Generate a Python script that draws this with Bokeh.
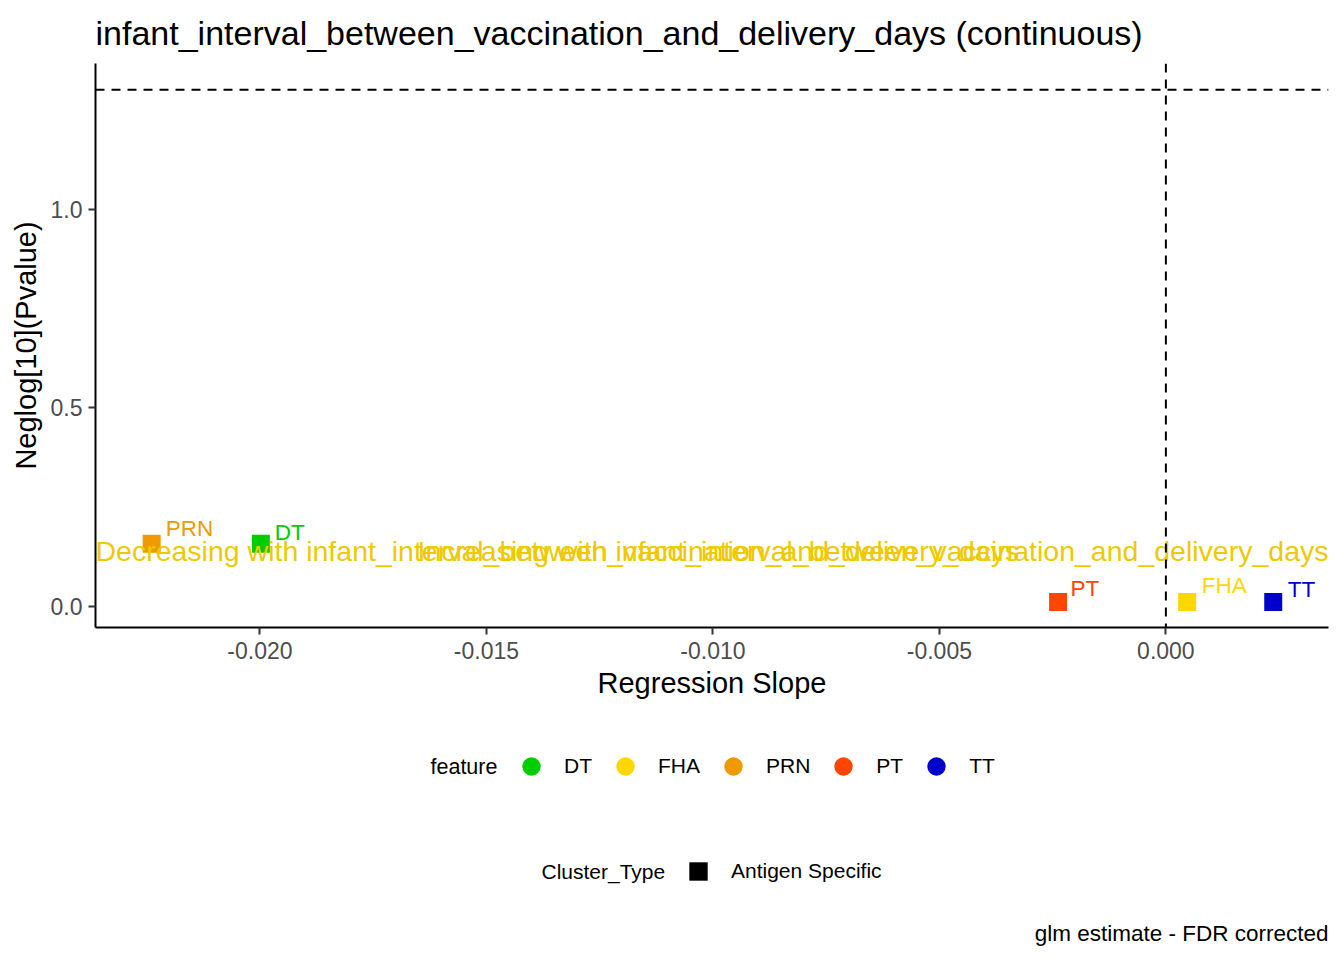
import math
from bokeh.plotting import figure
from bokeh.layouts import column
from bokeh.models import (Span, Label, Legend, LegendItem, FixedTicker,
                          NumeralTickFormatter, ColumnDataSource, Range1d)
from bokeh.core.properties import value
from bokeh.embed import file_html
from bokeh.resources import INLINE

# ---------------- data ----------------
features = ["DT", "FHA", "PRN", "PT", "TT"]
feature_colors = ["#00CD00", "#FFD700", "#EE9A00", "#FF4500", "#0000CD"]

point_feature = ["PRN", "DT", "PT", "FHA", "TT"]
slope = [-0.02239, -0.01998, -0.00238, 0.00047, 0.00237]
neglog_p = [0.158, 0.158, 0.011, 0.011, 0.011]

x_ticks = [-0.020, -0.015, -0.010, -0.005, 0.000]
y_ticks = [0.0, 0.5, 1.0]
x_lim = [-0.02363, 0.00359]
y_lim = [-0.053, 1.367]
p_threshold = 0.05
annot_texts = ["Decreasing with infant_interval_between_vaccination_and_delivery_days",
               "Increasing with infant_interval_between_vaccination_and_delivery_days"]
annot_y = 0.139

cluster_types = ["Antigen Specific"]
title_text = "infant_interval_between_vaccination_and_delivery_days (continuous)"
caption_text = "glm estimate - FDR corrected"

# label placement (repel offsets, px)
label_dx = [14, 14, 12.5, 14.5, 14.5]
label_dy = [-15, -11, -13.5, -16.5, -12.5]

FONT = "Liberation Sans"
hline_y = -math.log10(p_threshold)

color_of = dict(zip(features, feature_colors))
src = ColumnDataSource(dict(
    x=slope, y=neglog_p, feature=point_feature,
    color=[color_of[f] for f in point_feature],
    dx=label_dx, dy=label_dy,
))

W = 1336
p = figure(width=W, height=710, output_backend="svg", toolbar_location=None,
           x_range=Range1d(x_lim[0], x_lim[1]), y_range=Range1d(y_lim[0], y_lim[1]),
           min_border_left=95, min_border_right=8, min_border_top=62,
           min_border_bottom=83)
p.outline_line_color = None
p.xgrid.visible = False
p.ygrid.visible = False
p.background_fill_color = "white"
p.border_fill_color = "white"

p.title.text = title_text
p.title.text_font = FONT
p.title.text_font_size = "34px"
p.title.text_font_style = "normal"
p.title.align = "left"
p.title.text_color = "black"
p.title.standoff = 23

for ax in (p.xaxis[0], p.yaxis[0]):
    ax.axis_line_color = "black"
    ax.axis_line_width = 2
    ax.major_tick_line_color = "#333333"
    ax.major_tick_line_width = 2
    ax.major_tick_out = 7
    ax.major_tick_in = 0
    ax.minor_tick_line_color = None
    ax.major_label_text_font = FONT
    ax.major_label_text_font_size = "23px"
    ax.major_label_text_color = "#4D4D4D"
    ax.axis_label_text_font = FONT
    ax.axis_label_text_font_size = "29px"
    ax.axis_label_text_font_style = "normal"
    ax.axis_label_text_color = "black"

p.xaxis[0].ticker = FixedTicker(ticks=x_ticks)
p.xaxis[0].formatter = NumeralTickFormatter(format="0.000")
p.xaxis[0].axis_label = "Regression Slope"
p.xaxis[0].major_label_standoff = 7
p.xaxis[0].axis_label_standoff = 5
p.yaxis[0].ticker = FixedTicker(ticks=y_ticks)
p.yaxis[0].formatter = NumeralTickFormatter(format="0.0")
p.yaxis[0].axis_label = "Neglog[10](Pvalue)"
p.yaxis[0].major_label_standoff = 6
p.yaxis[0].axis_label_standoff = 6

# dashed reference lines
p.add_layout(Span(location=hline_y, dimension="width", line_color="black",
                  line_width=2, line_dash="9 7"))
p.add_layout(Span(location=0.0, dimension="height", line_color="black",
                  line_width=2, line_dash="9 7"))

# points
p.scatter("x", "y", source=src, marker="square", size=18, color="color",
          line_color=None)
p.text("x", "y", text="feature", source=src, x_offset="dx", y_offset="dy",
       text_color="color", text_font=value(FONT), text_font_size="22.5px",
       text_baseline="alphabetic", text_align="left")

# direction annotations
p.text(x=[x_lim[0]], y=[annot_y], text=[annot_texts[0]], text_color="#EEC900",
       text_font=value(FONT), text_font_size="28.5px", text_align="left",
       text_baseline="alphabetic")
p.text(x=[x_lim[1]], y=[annot_y], text=[annot_texts[1]], text_color="#EEC900",
       text_font=value(FONT), text_font_size="28.5px", text_align="right",
       text_baseline="alphabetic")

# ---------------- legend / caption panel ----------------
# (its frame is aligned with the main plot's frame: x offsets are from x=95)
LH = 245
lg = figure(width=W, height=LH, output_backend="svg", toolbar_location=None,
            x_range=Range1d(0, 1), y_range=Range1d(0, 1),
            min_border_left=0, min_border_right=0, min_border_top=0,
            min_border_bottom=0)
lg.axis.visible = False
lg.grid.visible = False
lg.outline_line_color = None
lg.background_fill_color = "white"
lg.border_fill_color = "white"

nan = float("nan")
feat_items = []
for f, c in zip(features, feature_colors):
    r = lg.scatter(x=[nan], y=[nan], marker="circle", size=18, color=c,
                   line_color=None)
    feat_items.append(LegendItem(label=f, renderers=[r]))
leg1 = Legend(items=feat_items, orientation="horizontal", location=(413, 166),
              glyph_width=46, glyph_height=46, label_standoff=10, spacing=10,
              padding=0, margin=0, border_line_color=None,
              background_fill_alpha=0, label_text_font=FONT,
              label_text_font_size="21px", label_text_color="black")
lg.add_layout(leg1, "center")

ct_items = []
for ct in cluster_types:
    r_sq = lg.scatter(x=[nan], y=[nan], marker="square", size=18, color="black",
                      line_color=None)
    ct_items.append(LegendItem(label=ct, renderers=[r_sq]))
leg2 = Legend(items=ct_items, orientation="horizontal", location=(580, 61),
              glyph_width=46, glyph_height=46, label_standoff=10, spacing=10,
              padding=0, margin=0, border_line_color=None,
              background_fill_alpha=0, label_text_font=FONT,
              label_text_font_size="21px", label_text_color="black")
lg.add_layout(leg2, "center")

lg.add_layout(Label(x=335, y=189, x_units="screen", y_units="screen",
                    text="feature", text_font=FONT, text_font_size="21.5px",
                    text_color="black", text_baseline="middle", text_align="left"))
lg.add_layout(Label(x=446, y=84, x_units="screen", y_units="screen",
                    text="Cluster_Type", text_font=FONT, text_font_size="21px",
                    text_color="black", text_baseline="middle", text_align="left"))
lg.add_layout(Label(x=1233, y=22, x_units="screen", y_units="screen",
                    text=caption_text, text_font=FONT, text_font_size="22.5px",
                    text_color="black", text_baseline="middle", text_align="right"))

layout = column(p, lg, spacing=0)
open("out.html", "w").write(file_html(layout, INLINE))
